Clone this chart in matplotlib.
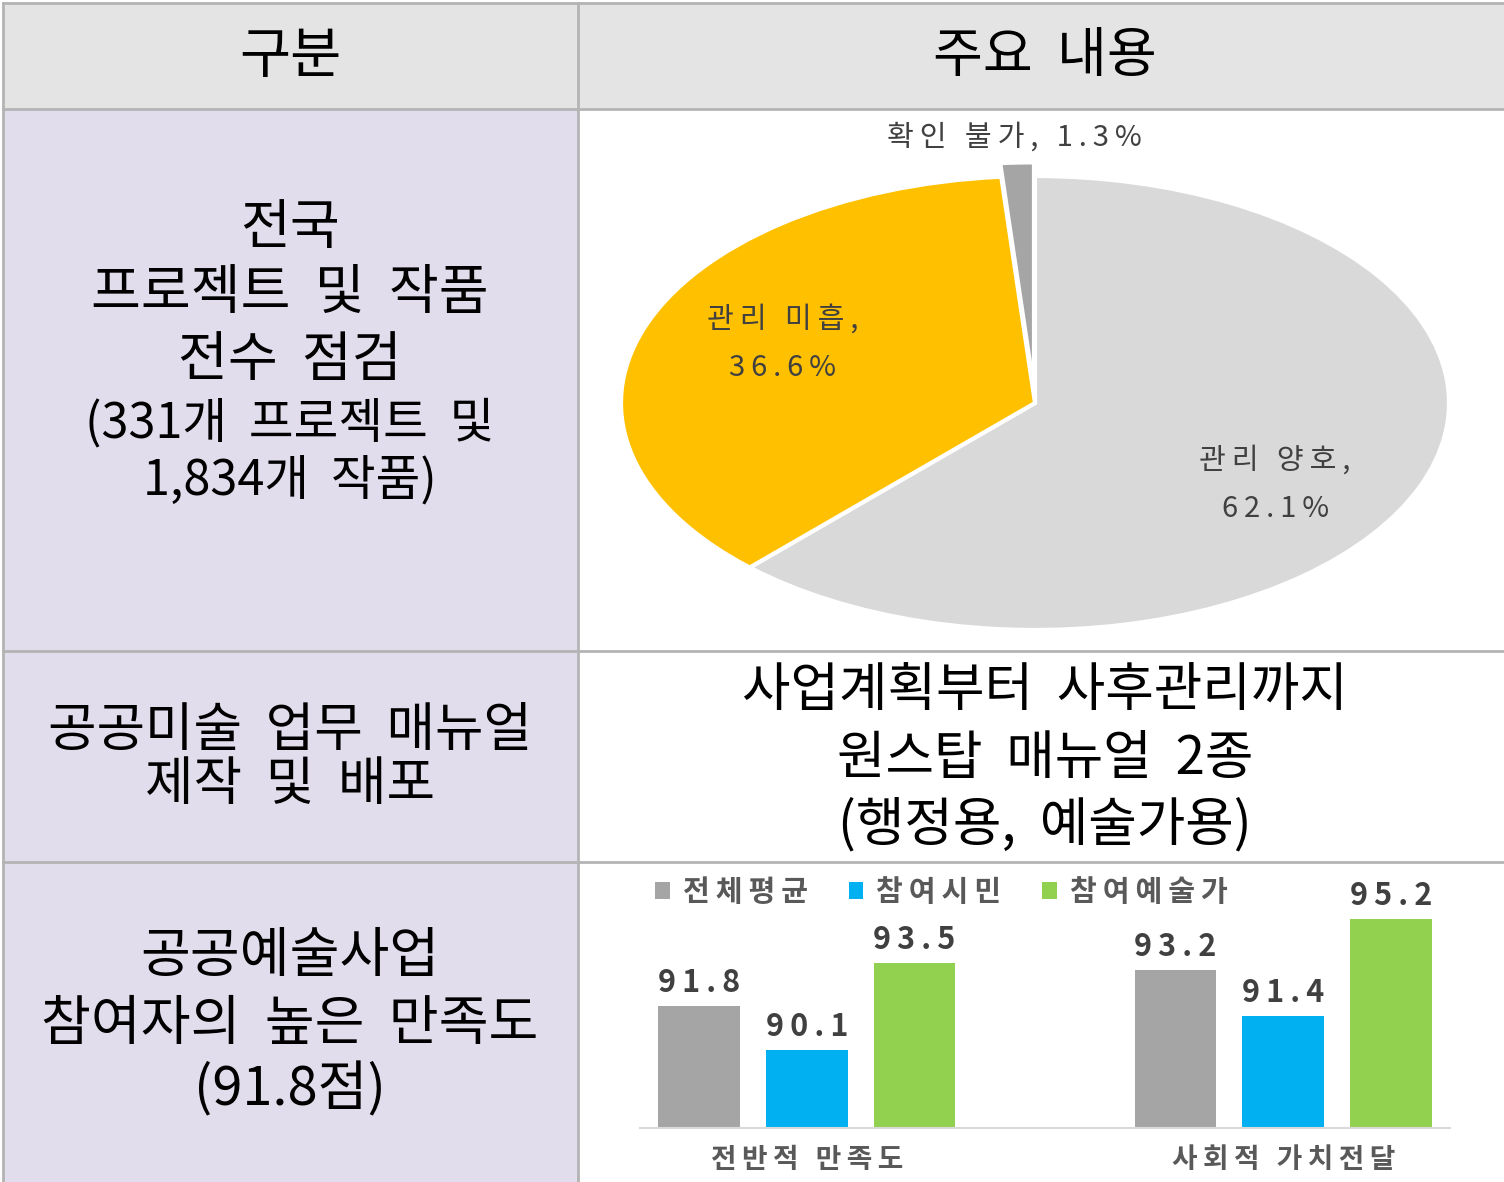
import matplotlib.pyplot as plt
from matplotlib.patches import Rectangle

plt.rcParams['font.family'] = ['Noto Sans CJK KR', 'DejaVu Sans']

# table text
header = ["구분", "주요  내용"]
row1_left = ["전국", "프로젝트  및  작품", "전수  점검", "(331개  프로젝트  및", "1,834개  작품)"]
row1_sizes = [39, 39, 39, 35, 35]
row2_left = ["공공미술  업무  매뉴얼", "제작  및  배포"]
row2_right = ["사업계획부터  사후관리까지", "원스탑  매뉴얼  2종", "(행정용,  예술가용)"]
row3_left = ["공공예술사업", "참여자의  높은  만족도", "(91.8점)"]

# pie data
pie_labels = ["관리 양호", "관리 미흡", "확인 불가"]
pie_values = [62.1, 36.6, 1.3]
pie_colors = ["#d9d9d9", "#ffc000", "#a5a5a5"]

# bar data
bar_categories = ["전반적 만족도", "사회적 가치전달"]
bar_series = ["전체평균", "참여시민", "참여예술가"]
avg_scores = [91.8, 93.2]
citizen_scores = [90.1, 91.4]
artist_scores = [93.5, 95.2]
bar_colors = ["#a5a5a5", "#00b0f0", "#92d050"]

TS = "\u2009"


def sp(s, gap=TS):
    # fake letter spacing
    return gap.join(s)


W, H = 1504, 1182
fig = plt.figure(figsize=(W / 100, H / 100), dpi=100)

# background table, pixel coordinates
bg = fig.add_axes([0, 0, 1, 1])
bg.set_xlim(0, W)
bg.set_ylim(H, 0)
bg.axis("off")

col_x = [3, 578, W]
row_y = [3, 109, 651, 862, H]
line_c = "#b4b4b4"

bg.add_patch(Rectangle((col_x[0], row_y[0]), W - col_x[0], row_y[1] - row_y[0], color="#e4e4e4", zorder=0))
bg.add_patch(Rectangle((col_x[0], row_y[1]), col_x[1] - col_x[0], H - row_y[1], color="#e1ddec", zorder=0))
for y in row_y[:4]:
    bg.plot([col_x[0], W], [y, y], color=line_c, lw=2, zorder=1)
for x in col_x[:2]:
    bg.plot([x, x], [row_y[0], H], color=line_c, lw=2, zorder=1)

lx, rx = 290, 1045
bg.text(lx, 57, header[0], fontsize=40, ha="center", va="center")
bg.text(rx, 57, header[1], fontsize=39, ha="center", va="center")

for s, fs, y in zip(row1_left, row1_sizes, [228, 293, 360, 424, 481]):
    bg.text(lx, y, s, fontsize=fs, ha="center", va="center")
for s, y in zip(row2_left, [731, 784]):
    bg.text(lx, y, s, fontsize=38, ha="center", va="center")
for s, y in zip(row2_right, [690, 758, 825]):
    bg.text(rx, y, s, fontsize=38, ha="center", va="center")
for s, y in zip(row3_left, [957, 1025, 1090]):
    bg.text(lx, y, s, fontsize=39, ha="center", va="center")

# pie (stretched into an ellipse)
ax_pie = fig.add_axes([621 / W, 1 - 630 / H, 828 / W, 454 / H])
wedges, _ = ax_pie.pie(pie_values, colors=pie_colors, startangle=90, counterclock=False,
                       explode=[0, 0, 0.06], wedgeprops=dict(edgecolor="white", linewidth=3))
for w in wedges:
    w.set_clip_on(False)
ax_pie.set_aspect("auto")
ax_pie.set_xlim(-1, 1)
ax_pie.set_ylim(-1, 1)
ax_pie.axis("off")

label_pos = [(0.58, -0.36), (-0.61, 0.26), (-0.05, 1.17)]
for (x, y), lab, v in zip(label_pos, pie_labels, pie_values):
    if lab == "확인 불가":
        txt = sp(f"{lab}, {v}%")
    else:
        txt = sp(f"{lab},") + "\n" + sp(f"{v}%")
    ax_pie.text(x, y, txt, fontsize=21, color="#404040", ha="center", va="center",
                linespacing=1.8, clip_on=False)

# bar chart
ax_bar = fig.add_axes([640 / W, 1 - 1128 / H, 810 / W, 254 / H])
step, width = 0.226, 0.1715
series = [avg_scores, citizen_scores, artist_scores]
for i, (name, vals, c) in enumerate(zip(bar_series, series, bar_colors)):
    xs = [g + (i - 1) * step for g in range(len(bar_categories))]
    bars = ax_bar.bar(xs, vals, width=width, color=c, label=sp(name))
    ax_bar.bar_label(bars, labels=[sp(f"{v}") for v in vals], padding=5,
                     fontsize=22, fontweight="bold", color="#404040")
ax_bar.set_xlim(-0.35, 1.35)
ax_bar.set_ylim(87.05, 96.95)
ax_bar.set_yticks([])
ax_bar.set_xticks(range(len(bar_categories)))
ax_bar.set_xticklabels([sp(c) for c in bar_categories], fontsize=20,
                       fontweight="bold", color="#595959")
ax_bar.tick_params(axis="x", length=0, pad=13)
for s in ["top", "left", "right"]:
    ax_bar.spines[s].set_visible(False)
ax_bar.spines["bottom"].set_color("#d9d9d9")
ax_bar.spines["bottom"].set_linewidth(1.5)
ax_bar.patch.set_alpha(0)

fig.legend(loc="center left", bbox_to_anchor=(655 / W, 1 - 892 / H), ncol=3, frameon=False,
           handlelength=0.5, handleheight=0.5, handletextpad=0.45, columnspacing=1.4,
           borderaxespad=0, borderpad=0,
           prop=dict(size=21, weight="bold"), labelcolor="#595959")

fig.savefig("out.png", dpi=100)
